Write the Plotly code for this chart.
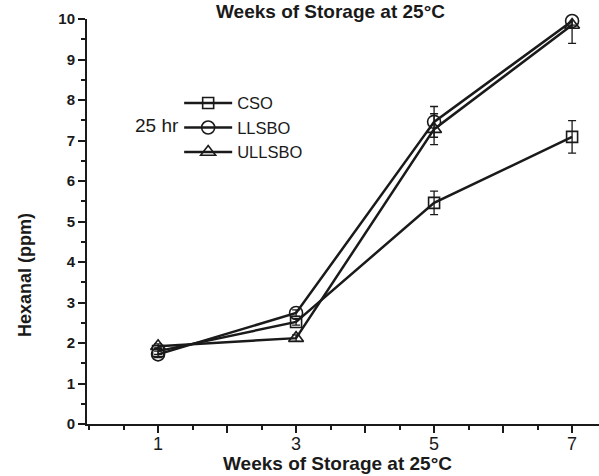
import plotly.graph_objects as go

weeks = [1, 3, 5, 7]
cso = [1.80, 2.52, 5.46, 7.09]
cso_err = [0.08, 0.08, 0.29, 0.40]
llsbo = [1.72, 2.74, 7.46, 9.95]
llsbo_err = [0.08, 0.08, 0.38, 0.10]
ullsbo = [1.92, 2.12, 7.28, 9.85]
ullsbo_err = [0.06, 0.08, 0.38, 0.45]
names = ["CSO", "LLSBO", "ULLSBO"]
symbols = ["square-open", "circle-open", "triangle-up-open"]
xtick_vals = [1, 2, 3, 4, 5, 6, 7]
xtick_text = ["1", "", "3", "", "5", "", "7"]
xtitle = "Weeks of Storage at 25°C"
ytitle = "Hexanal (ppm)"

fig = go.Figure()
for name, ys, errs, sym, sz in zip(names, [cso, llsbo, ullsbo], [cso_err, llsbo_err, ullsbo_err], symbols, [11, 13, 13]):
    fig.add_trace(go.Scatter(
        x=weeks, y=ys, name=name, mode="lines+markers",
        line=dict(color="#1a1a1a", width=2.5),
        marker=dict(symbol=sym, size=sz, color="#1a1a1a", line=dict(width=1.6, color="#1a1a1a")),
        error_y=dict(type="data", array=errs, visible=True, color="#1a1a1a", thickness=1.3, width=4),
        cliponaxis=False,
    ))

fig.update_layout(
    width=599, height=476,
    margin=dict(l=87, r=0, t=19, b=52, autoexpand=False),
    paper_bgcolor="white", plot_bgcolor="white",
    font=dict(family="Liberation Sans, Arial", color="#1a1a1a"),
    showlegend=True,
    legend=dict(x=0.18, y=0.835, xanchor="left", yanchor="top",
                bgcolor="rgba(0,0,0,0)", font=dict(size=16.5, color="#1a1a1a"),
                tracegroupgap=0, itemwidth=48),
    xaxis=dict(range=[-0.03, 7.39], tickvals=xtick_vals, ticktext=xtick_text, automargin=False,
               ticks="outside", ticklen=7, tickwidth=2, tickcolor="#1a1a1a",
               showline=True, linecolor="#1a1a1a", linewidth=2, showgrid=False, zeroline=False,
               minor=dict(dtick=0.5, tick0=0, ticks="outside", ticklen=4, tickwidth=1.5, tickcolor="#1a1a1a"),
               tickfont=dict(size=18, color="#1a1a1a"), ticklabelstandoff=-5),
    yaxis=dict(range=[0, 10], dtick=1, ticks="outside", ticklen=7, tickwidth=2, tickcolor="#1a1a1a",
               automargin=False,
               showline=True, linecolor="#1a1a1a", linewidth=2, showgrid=False, zeroline=False,
               minor=dict(dtick=0.5, ticks="outside", ticklen=4, tickwidth=1.5, tickcolor="#1a1a1a"),
               tickfont=dict(size=15, color="#1a1a1a", weight="bold")),
)
fig.add_annotation(text="<b>" + xtitle + "</b>", xref="paper", yref="paper", x=0.475, y=1.0,
                   yshift=8, showarrow=False, font=dict(size=19, color="#1a1a1a"), yanchor="middle")
fig.add_annotation(text="<b>" + xtitle + "</b>", xref="paper", yref="paper", x=0.49, y=0.0,
                   yshift=-39, showarrow=False, font=dict(size=19, color="#1a1a1a"), yanchor="middle")
fig.add_annotation(text="<b>" + ytitle + "</b>", xref="paper", yref="paper", x=0.0, y=0.368,
                   xshift=-62, showarrow=False, textangle=-90, font=dict(size=18, color="#1a1a1a"),
                   xanchor="center", yanchor="middle")
fig.add_annotation(text="25 hr", xref="paper", yref="paper", x=0.1845, y=0.7675,
                   xanchor="right", showarrow=False, font=dict(size=19, color="#1a1a1a"))
fig.write_html("out.html", config={"displayModeBar": False},
               post_script="document.body.style.margin='0';document.body.style.overflow='hidden';")
